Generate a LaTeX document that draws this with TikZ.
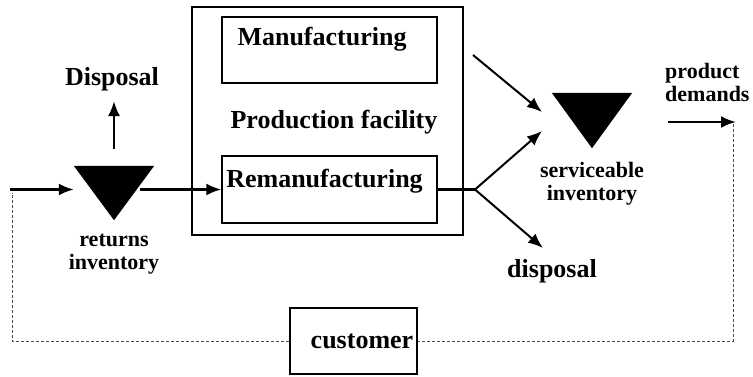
\documentclass[tikz,border=0pt]{standalone}
\usepackage{fontspec}
\setmainfont{Liberation Serif}
\usetikzlibrary{positioning, arrows.meta, calc}

\begin{document}
\begin{tikzpicture}[x=1pt, y=-1pt,
    big/.style={font=\fontsize{26}{28}\selectfont\bfseries, inner sep=0pt},
    small/.style={font=\fontsize{22}{23}\selectfont\bfseries, inner sep=0pt, align=center},
    unit/.style={draw, line width=1.3pt, minimum width=215pt, minimum height=66pt},
    stock/.style={minimum width=80pt, minimum height=54pt, inner sep=0pt},
    flow/.style={-{Latex[length=15pt, width=12pt]}, line width=2.4pt},
    back/.style={dashed, dash pattern=on 3pt off 2pt, line width=0.8pt, black!70}]
    \useasboundingbox (0,0) rectangle (753,376);

    % production facility
    \node[draw, line width=2.2pt, minimum width=271pt, minimum height=228pt] (plant) at (327.5,121) {};
    \node[unit] (mfg) at (329.5,50) {};
    \node[unit, minimum height=67pt] (reman) at (329.5,189.5) {};
    \node[big, anchor=base] (mfgtxt) at (322,45) {Manufacturing};
    \node[big, anchor=base] (planttxt) at (334,128) {Production facility};
    \node[big, anchor=base] (remantxt) at (324.5,187) {Remanufacturing};

    % inventories
    \node[stock] (ret) at (114,193) {};
    \fill (ret.north west) -- (ret.north east) -- (ret.south) -- cycle;
    \node[small, below=14pt of ret] (rettxt) {returns\\inventory};
    \node[stock, minimum height=55pt] (serv) at (592,120.5) {};
    \fill (serv.north west) -- (serv.north east) -- (serv.south) -- cycle;
    \node[small, below=14pt of serv] (servtxt) {serviceable\\inventory};

    % returns side
    \coordinate (in) at (10,189.5);
    \draw[flow] (in) -- (ret.west |- reman.west);
    \draw[flow] ([xshift=-14pt]ret.east |- reman.west) -- (reman.west);
    \node[big, anchor=base] (dispup) at (112,85) {Disposal};
    \coordinate (retup) at (114,149);
    \draw[flow] (retup) -- (114,101);

    % serviceable side
    \coordinate (split) at (475,189.5);
    \coordinate (mfgout) at (473,55);
    \draw[line width=2.4pt] (reman.east) -- (split);
    \draw[flow, line width=2pt] (mfgout) -- (542,112);
    \draw[flow, line width=2pt] (split) -- (542,131);
    \draw[flow, line width=2pt] (split) -- (543,248);
    \node[big, anchor=base] (disp) at (552,277) {disposal};

    % demand and customer loop
    \node[small, align=left, anchor=base west] (dem) at (665,101) {product\\demands};
    \coordinate (demin) at (668,122);
    \coordinate (demout) at (736,122);
    \draw[flow] (demin) -- (demout);
    \node[draw, line width=1.3pt, minimum width=127pt, minimum height=66pt] (cust) at (353.5,341) {};
    \node[big, anchor=base] (custtxt) at (362,348) {customer};
    \coordinate (loopR) at (733,124);
    \coordinate (loopL) at (12,193);
    \draw[back] (loopR) |- (cust.east);
    \draw[back] (cust.west) -| (loopL);
\end{tikzpicture}
\end{document}
